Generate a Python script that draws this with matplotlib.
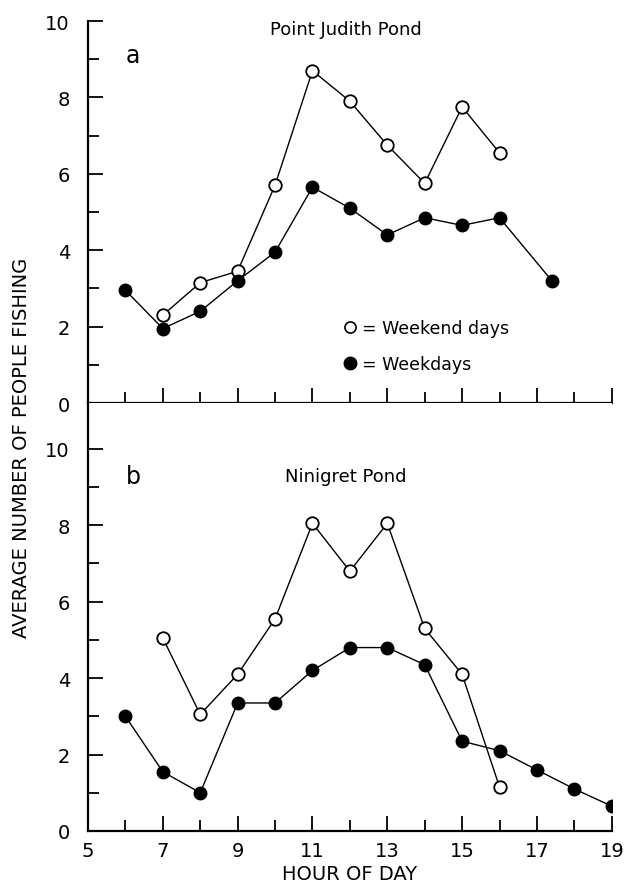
import matplotlib.pyplot as plt
import numpy as np
from matplotlib.lines import Line2D

plt.rcParams['font.family'] = ['DejaVu Sans']

# Point Judith Pond (panel a)
pj_weekend_hours = [7, 8, 9, 10, 11, 12, 13, 14, 15, 16]
pj_weekend = [2.3, 3.15, 3.45, 5.7, 8.7, 7.9, 6.75, 5.75, 7.75, 6.55]
pj_weekday_hours = [6, 7, 8, 9, 10, 11, 12, 13, 14, 15, 16, 17.4]
pj_weekday = [2.95, 1.95, 2.4, 3.2, 3.95, 5.65, 5.1, 4.4, 4.85, 4.65, 4.85, 3.2]

# Ninigret Pond (panel b)
ni_weekend_hours = [7, 8, 9, 10, 11, 12, 13, 14, 15, 16]
ni_weekend = [5.05, 3.05, 4.1, 5.55, 8.05, 6.8, 8.05, 5.3, 4.1, 1.15]
ni_weekday_hours = [6, 7, 8, 9, 10, 11, 12, 13, 14, 15, 16, 17, 18, 19]
ni_weekday = [3.0, 1.55, 1.0, 3.35, 3.35, 4.2, 4.8, 4.8, 4.35, 2.35, 2.1, 1.6, 1.1, 0.65]

panels = [
    ("a", "Point Judith Pond", pj_weekend_hours, pj_weekend, pj_weekday_hours, pj_weekday),
    ("b", "Ninigret Pond", ni_weekend_hours, ni_weekend, ni_weekday_hours, ni_weekday),
]

fig = plt.figure(figsize=(6.25, 8.95), dpi=100)
ax_a = fig.add_axes([0.1408, 0.5486, 0.838, 0.4268])
ax_b = fig.add_axes([0.1408, 0.0704, 0.838, 0.4782])


def style_axis(ax, ymax, show_xlabels):
    """
    Spines and ticks in the hand-drawn journal style
    """
    ax.set_xlim(5, 19)
    ax.set_ylim(0, ymax)
    ax.spines['top'].set_visible(False)
    ax.spines['right'].set_visible(False)
    ax.spines['left'].set_linewidth(1.6)
    ax.spines['bottom'].set_linewidth(1.6)
    ax.set_xticks(np.arange(5, 20, 2))
    ax.set_xticks(np.arange(6, 19, 2), minor=True)
    ax.set_yticks(np.arange(0, 11, 2))
    ax.set_yticks(np.arange(1, 10, 2), minor=True)
    ax.tick_params(which='major', direction='in', length=11, width=1.3, labelsize=14)
    ax.tick_params(which='minor', direction='in', length=8, width=1.3)
    ax.tick_params(axis='y', pad=13)
    ax.tick_params(axis='x', pad=7)
    if not show_xlabels:
        ax.tick_params(axis='x', labelbottom=False)


for ax, (letter, title, we_h, we_v, wd_h, wd_v) in zip([ax_a, ax_b], panels):
    ax.plot(we_h, we_v, color='black', linewidth=1.0, marker='o', markersize=9,
            markerfacecolor='white', markeredgecolor='black', markeredgewidth=1.3, zorder=3)
    ax.plot(wd_h, wd_v, color='black', linewidth=1.0, marker='o', markersize=9,
            markerfacecolor='black', markeredgecolor='black', zorder=3)
    ax.text(6.2, 9.1 if letter == "a" else 9.3, letter, fontsize=17, ha='center', va='center')
    ax.text(11.9, 9.8 if letter == "a" else 9.3, title, fontsize=13, ha='center', va='center')

style_axis(ax_a, 10, False)
style_axis(ax_b, 11.2, True)

handles = [
    Line2D([], [], linestyle='none', marker='o', markersize=8, markerfacecolor='white',
           markeredgecolor='black', markeredgewidth=1.2),
    Line2D([], [], linestyle='none', marker='o', markersize=9, markerfacecolor='black',
           markeredgecolor='black'),
]
ax_a.legend(handles, ['= Weekend days', '= Weekdays'], loc='upper left',
            bbox_to_anchor=(0.45, 0.26), frameon=False, fontsize=12.5,
            handletextpad=0.1, handlelength=1.2, labelspacing=1.0)

ax_b.set_xlabel("HOUR OF DAY", fontsize=14, labelpad=3)
fig.text(0.035, 0.5, "AVERAGE NUMBER OF PEOPLE FISHING", rotation=90,
         fontsize=14, ha='center', va='center')

fig.savefig("out.png", dpi=100)
